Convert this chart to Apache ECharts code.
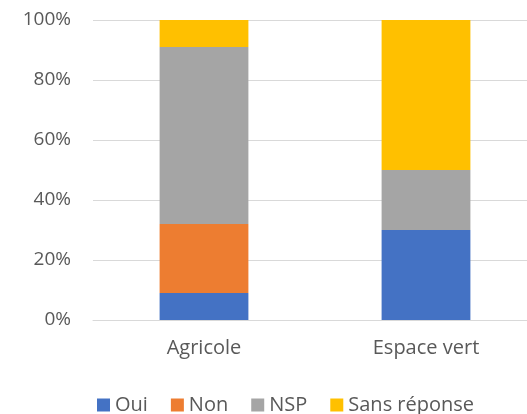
<!DOCTYPE html>
<html>
<head>
<meta charset="UTF-8">
<title>Chart</title>
<style>
    html,body{margin:0;padding:0;width:100%;height:100%;background:#fff;}
    #wrap{width:527px;height:414px;}
</style>
</head>
<body>
<div id="wrap"></div>
<script src="https://cdn.jsdelivr.net/npm/echarts@6/dist/echarts.min.js"></script>
<script>
    let categories = ['Agricole', 'Espace vert'];
    let oui = [9, 30];
    let non = [23, 0];
    let nsp = [59, 20];
    let sansReponse = [9, 50];
    let yTicks = [0, 20, 40, 60, 80, 100];

    let names = ['Oui', 'Non', 'NSP', 'Sans réponse'];
    let values = [oui, non, nsp, sansReponse];
    let colors = ['#4472C4', '#ED7D31', '#A5A5A5', '#FFC000'];

    let chart = echarts.init(document.getElementById('wrap'));

    let series = names.map((name, i) => ({
        name: name,
        type: 'bar',
        stack: 'total',
        barWidth: '40%',
        data: values[i],
        itemStyle: {color: colors[i]}
    }));

    chart.setOption({
        animation: false,
        textStyle: {fontFamily: 'Open Sans'},
        color: colors,
        grid: {left: 93, width: 444, top: 20, height: 300, outerBoundsMode: 'none', containLabel: false},
        xAxis: {
            type: 'category',
            data: categories,
            axisTick: {show: false},
            axisLine: {lineStyle: {color: '#d9d9d9', width: 1}},
            axisLabel: {color: '#595959', fontSize: 20, margin: 18}
        },
        yAxis: {
            type: 'value',
            min: yTicks[0],
            max: yTicks[yTicks.length - 1],
            interval: 20,
            axisLine: {show: false},
            axisTick: {show: false},
            splitLine: {lineStyle: {color: '#d9d9d9', width: 1}},
            axisLabel: {color: '#595959', fontSize: 19, margin: 22, formatter: '{value}%'}
        },
        legend: {
            data: names,
            top: 395,
            left: 97,
            padding: 0,
            itemWidth: 13,
            itemHeight: 13,
            itemGap: 23,
            icon: 'rect',
            textStyle: {color: '#595959', fontSize: 20}
        },
        series: series
    });
</script>
</body>
</html>
